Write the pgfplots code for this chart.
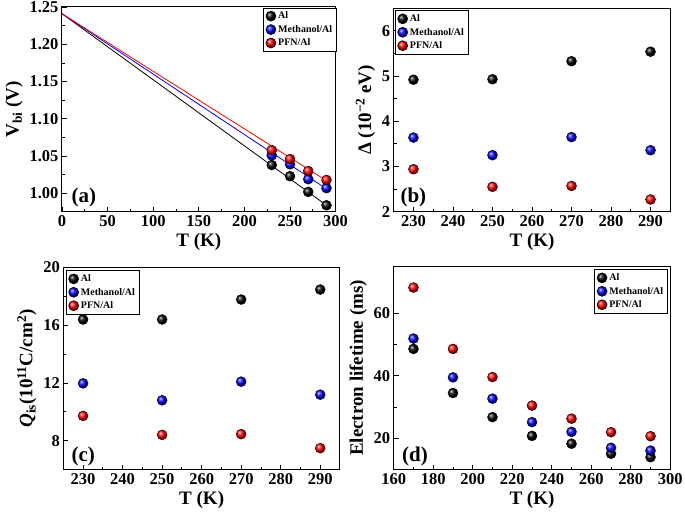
\documentclass[border=0pt]{standalone}
\usepackage{pgfplots}
\pgfplotsset{compat=1.18}
\usepackage{fontspec}
\setmainfont{Liberation Serif}

\pgfplotsset{
  panel/.style={scale only axis,
    axis line style={line width=1pt},
    tick align=inside, xtick pos=bottom, ytick pos=left,
    major tick length=5pt, minor tick length=3pt,
    every tick/.style={line width=0.8pt, black},
    minor tick num=1,
    tick label style={font=\fontsize{16.5}{16.5}\selectfont\bfseries},
    label style={font=\fontsize{19}{19}\selectfont\bfseries},
    /pgf/number format/assume math mode=true,
    xlabel={T (K)},
    legend cell align=left,
    legend style={font=\fontsize{10}{11}\selectfont\bfseries, draw=black, line width=0.6pt,
      inner sep=2pt, row sep=1pt}},
  al/.style={only marks, mark=ball, mark size=5pt, mark options={ball color=black}},
  me/.style={only marks, mark=ball, mark size=5pt, mark options={ball color=blue}},
  pf/.style={only marks, mark=ball, mark size=5pt, mark options={ball color=red}}
}
\tikzset{plab/.style={anchor=base west, font=\fontsize{21}{21}\selectfont\bfseries}}

\begin{document}
\begin{tikzpicture}

% (a) built-in potential
\begin{axis}[panel, at={(62pt,305pt)}, width=273.6pt, height=205pt,
  xmin=0, xmax=300, xtick={0,50,...,300},
  ymin=0.975, ymax=1.25, ytick={1.00,1.05,1.10,1.15,1.20,1.25},
  yticklabel style={/pgf/number format/.cd, fixed, fixed zerofill, precision=2},
  ylabel={V\textsubscript{bi} (V)},
  legend style={at={(1.003,0.997)}, anchor=north east}]
\addplot[black, line width=0.8pt, forget plot] coordinates {(0,1.241) (290,0.984)};
\addplot[blue, line width=0.8pt, forget plot] coordinates {(0,1.241) (290,1.006)};
\addplot[red, line width=0.8pt, forget plot] coordinates {(0,1.241) (290,1.017)};
\addplot[al] coordinates {(230,1.038) (250,1.023) (270,1.002) (290,0.984)};
\addplot[me] coordinates {(230,1.051) (250,1.039) (270,1.019) (290,1.007)};
\addplot[pf] coordinates {(230,1.058) (250,1.046) (270,1.030) (290,1.018)};
\legend{Al, Methanol/Al, PFN/Al}
\node[plab] at (rel axis cs:0.022,0.045) {(a)};
\end{axis}

% (b) disorder parameter
\begin{axis}[panel, at={(393.7pt,305.3pt)}, width=276.6pt, height=203.4pt,
  xmin=225, xmax=295, xtick={230,240,...,290},
  ymin=2, ymax=6.5, ytick={2,3,4,5,6},
  ylabel={Δ (10\textsuperscript{−2} eV)},
  legend style={at={(0.005,0.99)}, anchor=north west}]
\addplot[al] coordinates {(230,4.92) (250,4.93) (270,5.33) (290,5.54)};
\addplot[me] coordinates {(230,3.64) (250,3.25) (270,3.65) (290,3.36)};
\addplot[pf] coordinates {(230,2.94) (250,2.55) (270,2.57) (290,2.27)};
\legend{Al, Methanol/Al, PFN/Al}
\node[plab] at (rel axis cs:0.012,0.045) {(b)};
\end{axis}

% (c) interface charge
\begin{axis}[panel, at={(63.3pt,47.3pt)}, width=276.7pt, height=202.4pt,
  xmin=225, xmax=295, xtick={230,240,...,290},
  ymin=6, ymax=20, ytick={8,12,16,20},
  ylabel={\textit{Q}\textsubscript{is}(10\textsuperscript{11}C/cm\textsuperscript{2})},
  legend style={at={(0.01,0.985)}, anchor=north west}]
\addplot[al] coordinates {(230,16.39) (250,16.39) (270,17.77) (290,18.46)};
\addplot[me] coordinates {(230,11.97) (250,10.80) (270,12.09) (290,11.19)};
\addplot[pf] coordinates {(230,9.72) (250,8.41) (270,8.46) (290,7.49)};
\legend{Al, Methanol/Al, PFN/Al}
\node[plab] at (rel axis cs:0.017,0.042) {(c)};
\end{axis}

% (d) electron lifetime
\begin{axis}[panel, at={(393.7pt,47.3pt)}, width=276.6pt, height=203.4pt,
  xmin=160, xmax=300, xtick={160,180,...,300},
  ymin=10, ymax=75, ytick={20,40,60},
  ylabel={Electron lifetime (ms)},
  legend style={at={(0.99,0.985)}, anchor=north east}]
\addplot[al] coordinates {(170,48.6) (190,34.5) (210,26.8) (230,20.8) (250,18.3) (270,15.1) (290,14.0)};
\addplot[me] coordinates {(170,51.9) (190,39.5) (210,32.7) (230,25.2) (250,22.1) (270,17.0) (290,16.1)};
\addplot[pf] coordinates {(170,68.2) (190,48.6) (210,39.6) (230,30.5) (250,26.3) (270,22.0) (290,20.7)};
\legend{Al, Methanol/Al, PFN/Al}
\node[plab] at (rel axis cs:0.018,0.042) {(d)};
\end{axis}

\pgfresetboundingbox
\useasboundingbox (0,0) rectangle (685pt,517pt);
\end{tikzpicture}
\end{document}
